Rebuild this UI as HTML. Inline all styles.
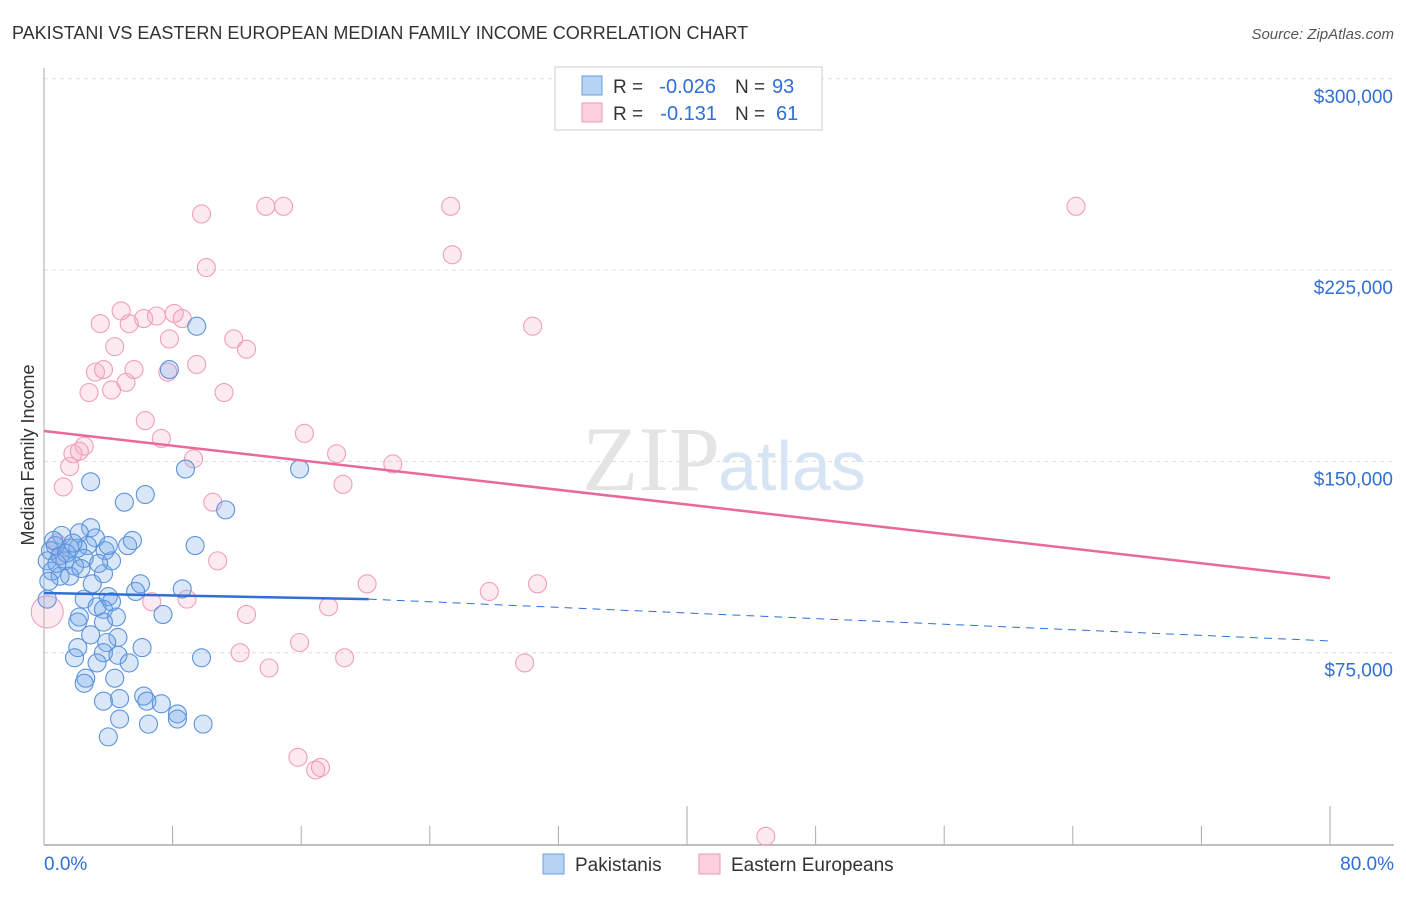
<!DOCTYPE html>
<html><head><meta charset="utf-8"><style>
body{margin:0;background:#fff;font-family:"Liberation Sans",sans-serif;}
#wrap{position:relative;width:1406px;height:892px;}
</style></head><body>
<div id="wrap">
<svg id="svg" width="1406" height="892">
<text x="12" y="39" font-size="18" fill="#333">PAKISTANI VS EASTERN EUROPEAN MEDIAN FAMILY INCOME CORRELATION CHART</text>
<text x="1394" y="39" font-size="15" fill="#555" text-anchor="end" font-style="italic">Source: ZipAtlas.com</text>
<text x="34" y="455" font-size="18" fill="#333" text-anchor="middle" transform="rotate(-90 34 455)">Median Family Income</text>
<text x="720" y="490" font-size="92" fill="#e4e4e4" text-anchor="end" font-family="Liberation Serif">ZIP</text>
<text x="718" y="490" font-size="70" fill="#d6e4f4">atlas</text>
<g id="grid"></g><g id="axes"></g><g id="pts"></g><g id="lines"></g>
<g>
<rect x="555" y="67" width="267" height="63" fill="#fff" stroke="#ccc"/>
<rect x="582" y="76" width="20" height="19" fill="#b8d4f5" stroke="#6a9ee0"/>
<rect x="582" y="103" width="20" height="19" fill="#fcd0dd" stroke="#ec9ab4"/>
<text x="613" y="93" font-size="19" fill="#333">R =</text>
<text x="716" y="93" font-size="20" fill="#2f6fd6" text-anchor="end">-0.026</text>
<text x="735" y="93" font-size="19" fill="#333">N =</text>
<text x="772" y="93" font-size="20" fill="#2f6fd6">93</text>
<text x="613" y="120" font-size="19" fill="#333">R =</text>
<text x="717" y="120" font-size="20" fill="#2f6fd6" text-anchor="end">-0.131</text>
<text x="735" y="120" font-size="19" fill="#333">N =</text>
<text x="776" y="120" font-size="20" fill="#2f6fd6">61</text>
</g>
<g>
<rect x="543" y="854" width="21" height="20" fill="#b8d4f5" stroke="#6a9ee0"/>
<text x="575" y="871" font-size="19" fill="#333">Pakistanis</text>
<rect x="699" y="854" width="21" height="20" fill="#fcd0dd" stroke="#ec9ab4"/>
<text x="731" y="871" font-size="19" fill="#333">Eastern Europeans</text>
</g>
</svg>
</div>
<script>
const blueX=[9.5,7.8,8.8,15.9,2.9,6.3,5.0,11.3,9.4,5.2,5.5,2.9,2.2,3.2,1.1,0.7,1.6,2.7,2.1,0.4,1.0,0.2,1.3,2.5,1.9,0.5,1.6,1.0,3.7,0.3,3.0,6.0,5.7,8.6,0.2,2.5,4.0,3.3,4.2,3.7,7.4,2.2,4.5,3.7,2.1,2.9,4.6,3.9,2.1,6.1,3.7,4.6,1.9,3.3,5.3,9.8,2.6,2.5,4.4,3.7,4.7,6.2,6.4,7.3,8.3,8.3,4.7,6.5,9.9,4.0,3.8,4.2,3.4,4.0,0.6,1.4,2.3,0.8,1.8];
const blueY=[203,186,147,147,142,137,134,131,117,117,119,124,122,120,121,117,116,117,116,115,113,111,111,112,109,107,105,105,106,103,102,102,99,100,96,96,97,93,95,92,90,89,89,87,87,82,81,79,77,77,75,74,73,71,71,73,65,63,65,56,57,58,56,55,51,49,49,47,47,42,115,111,110,117,119,114,108,110,118];
const pinkX=[64.2,25.3,13.8,14.9,9.8,25.4,10.1,30.4,4.8,3.5,5.3,6.2,7.0,8.1,8.6,7.8,4.4,11.8,12.6,9.5,3.7,3.2,5.6,7.7,5.1,2.8,4.2,11.2,6.3,7.3,16.2,2.5,1.8,2.2,9.3,18.2,21.7,1.6,1.2,18.6,10.5,0.8,10.8,20.1,30.7,27.7,6.7,8.9,17.7,12.6,15.9,12.2,18.7,29.9,14.0,15.8,16.9,17.2,44.9,0.2,1.0];
const pinkY=[250,250,250,250,247,231,226,203,209,204,204,206,207,208,206,198,195,198,194,188,186,185,186,185,181,177,178,177,166,159,161,156,153,154,151,153,149,148,140,141,134,118,111,102,102,99,95,96,93,90,79,75,73,71,69,34,29,30,3,91,113];
const blueTrendX=[0,20.2,80];
const blueTrendY=[98.4,96.0,79.6];
const pinkTrendX=[0,80];
const pinkTrendY=[161.9,104.3];
const yTicks=[75,150,225,300];
const yTickLabels=["$75,000","$150,000","$225,000","$300,000"];
const xTickLabels=["0.0%","80.0%"];
const NS="http://www.w3.org/2000/svg";
const X=v=>44+v/80*1286, Y=v=>844-v/75*191.3;
function mk(tag,attrs,parent){const e=document.createElementNS(NS,tag);for(const k in attrs)e.setAttribute(k,attrs[k]);parent.appendChild(e);return e;}
const grid=document.getElementById('grid'),axes=document.getElementById('axes'),pts=document.getElementById('pts'),lines=document.getElementById('lines');
yTicks.forEach((t,i)=>{
 const l=mk('line',{x1:44,x2:1394,y1:Y(t),y2:Y(t),stroke:'#ddd','stroke-dasharray':'4,4'},grid);
 
 
 const tx=mk('text',{x:1393,y:Y(t)+24,'font-size':19,fill:'#2f6fd6','text-anchor':'end'},axes);
 tx.textContent=yTickLabels[i];
 
 
});
const yl=mk('line',{x1:44,x2:44,y1:68,y2:845,stroke:'#aaa'},axes);


const xl=mk('line',{x1:44,x2:1394,y1:845,y2:845,stroke:'#aaa','stroke-width':1.5},axes);


for(let i=0;i<=10;i++){const v=i*8;const tall=(i==5||i==10);
 const tk=mk('line',{x1:X(v),x2:X(v),y1:tall?806:826,y2:845,stroke:'#aaa'},axes);
 
 }
[[0,44,'start'],[1,1394,'end']].forEach(([i,x,a])=>{const t=mk('text',{x:x,y:870,'font-size':19,fill:'#2f6fd6','text-anchor':a},axes);t.textContent=xTickLabels[i];
 
 });
pinkX.forEach((v,i)=>{const c=mk('circle',{cx:X(v),cy:Y(pinkY[i]),r:(i==59?16:9),fill:'rgba(244,160,188,0.22)',stroke:'#ef9fb9','stroke-width':1.1},pts);
 
 });
blueX.forEach((v,i)=>{const c=mk('circle',{cx:X(v),cy:Y(blueY[i]),r:9,fill:'rgba(120,170,235,0.28)',stroke:'#5b93dc','stroke-width':1.1},pts);
 
 });
const bs=mk('line',{x1:X(blueTrendX[0]),y1:Y(blueTrendY[0]),x2:X(blueTrendX[1]),y2:Y(blueTrendY[1]),stroke:'#2f6fd6','stroke-width':2.5},lines);


const bd=mk('line',{x1:X(blueTrendX[1]),y1:Y(blueTrendY[1]),x2:X(blueTrendX[2]),y2:Y(blueTrendY[2]),stroke:'#2f6fd6','stroke-width':1,'stroke-dasharray':'8,6'},lines);


const pl=mk('line',{x1:X(pinkTrendX[0]),y1:Y(pinkTrendY[0]),x2:X(pinkTrendX[1]),y2:Y(pinkTrendY[1]),stroke:'#e8699a','stroke-width':2.5},lines);


</script>
</body></html>
